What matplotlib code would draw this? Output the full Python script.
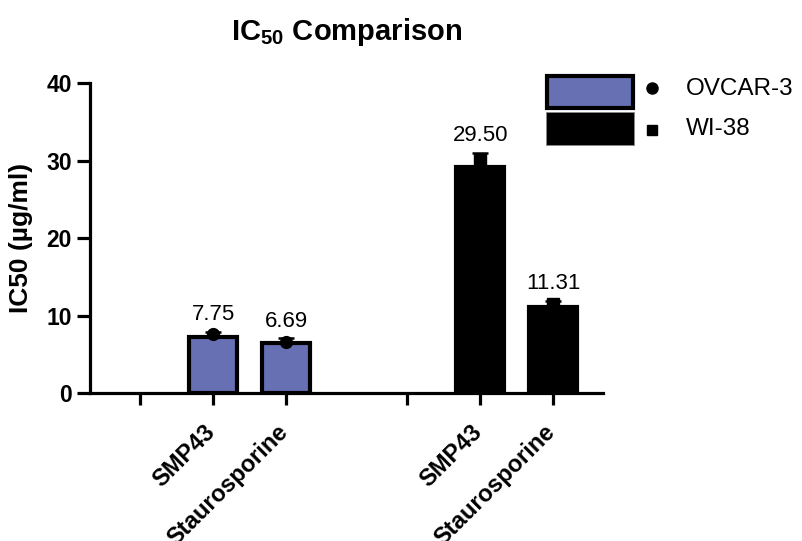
import matplotlib
matplotlib.use("Agg")
import matplotlib.pyplot as plt
from matplotlib.patches import Rectangle
from matplotlib.lines import Line2D
import numpy as np

plt.rcParams['font.family'] = ['Liberation Sans', 'DejaVu Sans']
plt.rcParams['mathtext.fontset'] = 'custom'
plt.rcParams['mathtext.rm'] = 'Liberation Sans'
plt.rcParams['mathtext.bf'] = 'Liberation Sans:bold'

# ---- data ----
series = ["OVCAR-3", "WI-38"]
treatments = ["SMP43", "Staurosporine"]
bar_ovcar = [7.27, 6.42]
bar_wi38 = [29.25, 11.05]
point_ovcar = [7.58, 6.65]
point_wi38 = [30.1, 11.55]
err_ovcar = [0.65, 0.62]
err_wi38 = [1.8, 0.88]
label_ovcar = ["7.75", "6.69"]
label_wi38 = ["29.50", "11.31"]
y_ticks = [0, 10, 20, 30, 40]

blue = "#6670B3"
W, H = 802, 541

fig = plt.figure(figsize=(W / 100, H / 100), dpi=100)
ax = fig.add_axes([90 / W, 1 - 393 / H, (603 - 90) / W, (393 - 83.3) / H])

gap = 1.66
x_sep1 = 0.0
x_g1 = np.array([1.0, 2.0])
x_sep2 = x_g1[-1] + gap
x_g2 = x_sep2 + np.array([1.0, 2.0])
bw = 0.66

ax.bar(x_g1, bar_ovcar, width=bw, color=blue, edgecolor="black", linewidth=3.0, zorder=2)
ax.bar(x_g2, bar_wi38, width=bw, color="black", edgecolor="black", linewidth=3.0, zorder=2)

ax.errorbar(x_g1, bar_ovcar, yerr=[np.zeros(2), err_ovcar], fmt="none", ecolor="black",
            elinewidth=1.8, capsize=5.5, capthick=1.8, zorder=3)
ax.errorbar(x_g2, bar_wi38, yerr=[np.zeros(2), err_wi38], fmt="none", ecolor="black",
            elinewidth=1.8, capsize=5.5, capthick=1.8, zorder=3)

ax.plot(x_g1, point_ovcar, "o", color="black", markersize=8.5, zorder=4)
ax.plot(x_g2, point_wi38, "s", color="black", markersize=8, zorder=4)

for xs, bars, errs, labs in [(x_g1, bar_ovcar, err_ovcar, label_ovcar),
                             (x_g2, bar_wi38, err_wi38, label_wi38)]:
    for x, b, e, t in zip(xs, bars, errs, labs):
        ax.annotate(t, (x, b + e), xytext=(0, 5), textcoords="offset points",
                    ha="center", va="bottom", fontsize=16, color="black")

ax.set_xlim(-0.685, 6.34)
ax.set_ylim(0, 40)
ax.set_yticks(y_ticks)
ax.set_yticklabels([str(v) for v in y_ticks], fontsize=16.5, fontweight="bold")
xt = [x_sep1, *x_g1, x_sep2, *x_g2]
ax.set_xticks(xt)
ax.tick_params(axis="x", labelbottom=False)

# rotated category labels under the bars
for xs in (x_g1, x_g2):
    for x, t in zip(xs, treatments):
        ax.annotate(t, (x, 0), xytext=(-7, -20), textcoords="offset points",
                    xycoords=("data", "axes fraction"),
                    ha="right", va="top", rotation=45, rotation_mode="anchor",
                    fontsize=17, fontweight="bold", annotation_clip=False)

for s in ["top", "right"]:
    ax.spines[s].set_visible(False)
for s in ["left", "bottom"]:
    ax.spines[s].set_linewidth(2.3)
ax.tick_params(axis="y", length=9.5, width=2.3, pad=3.5)
ax.tick_params(axis="x", length=8.5, width=2.3)

ax.set_ylabel("IC50 (µg/ml)", fontsize=19, fontweight="bold")
ax.yaxis.set_label_coords((33 - 90) / (603 - 90), 0.5)

ax.set_title(r"$\mathbf{IC_{50}}$ Comparison", fontsize=21, fontweight="bold", pad=31)

# ---- legend (drawn in figure pixels) ----
def fx(x):
    return x / W

def fy(y):
    return 1 - y / H

fig.add_artist(Rectangle((fx(547), fy(108)), (633 - 547) / W, (108 - 76) / H,
                         transform=fig.transFigure, facecolor=blue, edgecolor="black",
                         linewidth=3.0))
fig.add_artist(Rectangle((fx(546), fy(145)), (634 - 546) / W, (145 - 112) / H,
                         transform=fig.transFigure, facecolor="black", edgecolor="#888888",
                         linewidth=0.6))
fig.add_artist(Line2D([fx(652)], [fy(88)], marker="o", color="black", markersize=8,
                      transform=fig.transFigure))
fig.add_artist(Line2D([fx(652)], [fy(130)], marker="s", color="black", markersize=7.5,
                      transform=fig.transFigure))
fig.text(fx(686), fy(89), series[0], fontsize=17.5, va="center", ha="left")
fig.text(fx(686), fy(129), series[1], fontsize=17.5, va="center", ha="left")

fig.savefig("out.png", dpi=100)
